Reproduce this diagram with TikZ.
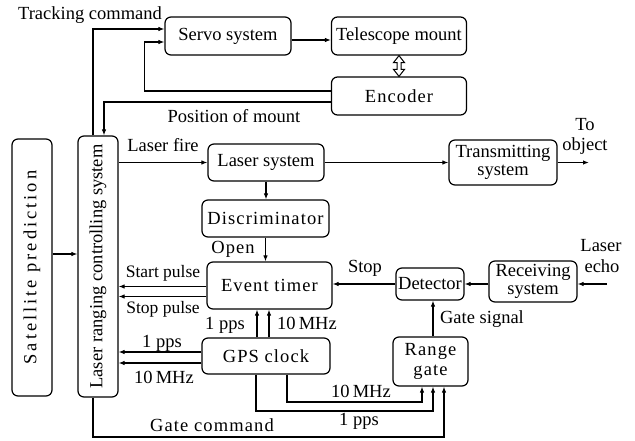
\documentclass[tikz,border=0pt]{standalone}
\usepackage{fontspec}
\setmainfont{Liberation Serif}
\newfontfamily\spc[LetterSpace=6]{Liberation Serif}
\newfontfamily\spcw[LetterSpace=16]{Liberation Serif}
\usetikzlibrary{arrows.meta}
\begin{document}
\begin{tikzpicture}[x=1pt,y=-1pt,
  font=\fontsize{18.5}{20}\selectfont,
  box/.style={draw, rounded corners=6pt, line width=1.2pt, inner sep=0pt, align=center},
  arr/.style={-{Latex[length=6pt,width=4.5pt]}, line width=1.1pt},
  lbl/.style={inner sep=0pt, anchor=base},
  two/.style={font=\fontsize{18.5}{17.5}\selectfont}]
\useasboundingbox (0,0) rectangle (635,440);

% boxes
\node[box, minimum width=126pt, minimum height=38pt] (servo) at (228,36) {Servo system};
\node[box, minimum width=135pt, minimum height=38pt] (mount) at (399,36) {Telescope mount};
\node[box, minimum width=135pt, minimum height=38pt] (enc) at (399,96) {\spc Encoder};
\node[box, minimum width=40pt, minimum height=257pt] (sat) at (32,267.5) {};
\node[rotate=90, inner sep=0pt] (satT) at (sat) {\spcw Satellite prediction};
\node[box, minimum width=40pt, minimum height=261pt] (lrcs) at (98,266.5) {};
\node[rotate=90, inner sep=0pt] (lrcsT) at (lrcs) {Laser ranging controlling system};
\node[box, minimum width=116pt, minimum height=37pt] (laser) at (266,162.5) {Laser system};
\node[box, two, minimum width=108pt, minimum height=45pt] (trans) at (503,162.5) {Transmitting\\system};
\node[box, minimum width=127pt, minimum height=37pt] (disc) at (265.5,218.5) {\spc Discriminator};
\node[box, minimum width=125pt, minimum height=47pt] (timer) at (269.5,285.5) {\spc Event timer};
\node[box, minimum width=128pt, minimum height=36pt] (gps) at (266,356) {\spc GPS clock};
\node[box, minimum width=68pt, minimum height=32pt] (det) at (430,284) {Detector};
\node[box, two, minimum width=88pt, minimum height=41pt] (recv) at (533,281.5) {Receiving\\system};
\node[box, font=\fontsize{18.5}{20}\selectfont\spc, minimum width=75pt, minimum height=49pt] (rgate) at (430.5,361.5) {Range\\gate};

% helper coordinates
\coordinate (s1) at ([yshift=13.5pt]sat.east);
\coordinate (sp1) at ([yshift=-1pt]timer.west);
\coordinate (sp2) at ([yshift=-11pt]timer.west);
\coordinate (gx1) at (257,0);
\coordinate (gx2) at (269,0);
\coordinate (gl1) at ([yshift=4pt]gps.west);
\coordinate (gl2) at ([yshift=-7pt]gps.west);
\coordinate (gb1) at (256,0);
\coordinate (gb2) at (287,0);
\coordinate (rg1) at (422,0);
\coordinate (rg2) at (433,0);
\coordinate (rg3) at (444,0);
\coordinate (l1) at (0,411);
\coordinate (l2) at (0,402);
\coordinate (l3) at (0,437);
\coordinate (obj) at (589,162.5);
\coordinate (echo) at (607,284);

% connectors
\draw[arr] ([xshift=-5pt]lrcs.north) |- ([yshift=7pt]servo.west);
\draw[arr] ([yshift=-4pt]servo.east) -- ([yshift=-4pt]mount.west);
\draw[arr] ([yshift=5pt]enc.west) -- ++(-186,0) |- ([yshift=-6pt]servo.west);
\draw[arr] ([yshift=-6pt]enc.west) -| ([xshift=6pt]lrcs.north);
% hollow double arrow between mount and encoder
\draw[line width=1pt, line join=miter] (mount.south)
  -- ([shift={(5.5,7)}]mount.south) -- ([shift={(2,7)}]mount.south)
  -- ([shift={(2,-7)}]enc.north) -- ([shift={(5.5,-7)}]enc.north)
  -- (enc.north)
  -- ([shift={(-5.5,-7)}]enc.north) -- ([shift={(-2,-7)}]enc.north)
  -- ([shift={(-2,7)}]mount.south) -- ([shift={(-5.5,7)}]mount.south) -- cycle;
\draw[arr] (s1) -- (s1 -| lrcs.west);
\draw[arr] (lrcs.east |- laser.west) -- (laser.west);
\draw[arr] (laser.south) -- (laser.south |- disc.north);
\draw[arr] (laser.east) -- (laser.east -| trans.west);
\draw[arr] (trans.east) -- (obj);
\draw[arr] (disc.south) -- (disc.south |- timer.north);
\draw[arr] (sp1) -- (sp1 -| lrcs.east);
\draw[arr] (sp2) -- (sp2 -| lrcs.east);
\draw[arr] (gps.north -| gx1) -- (timer.south -| gx1);
\draw[arr] (gps.north -| gx2) -- (timer.south -| gx2);
\draw[arr] (gl1) -- (gl1 -| lrcs.east);
\draw[arr] (gl2) -- (gl2 -| lrcs.east);
\draw[arr] (gps.south -| gb1) |- (l1 -| rg2) -- (rgate.south -| rg2);
\draw[arr] (gps.south -| gb2) |- (l2 -| rg1) -- (rgate.south -| rg1);
\draw[arr] ([xshift=-5pt]lrcs.south) |- (l3 -| rg3) -- (rgate.south -| rg3);
\draw[arr] (rgate.north -| rg2) -- (det.south -| rg2);
\draw[arr] (det.west) -- (det.west -| timer.east);
\draw[arr] (recv.west |- det.east) -- (det.east);
\draw[arr] (echo) -- (echo -| recv.east);

% labels
\node[lbl] (tTrack) at (90,19) {Tracking command};
\node[lbl] (tPos) at (234,122) {Position of mount};
\node[lbl] (tFire) at (163,151) {Laser fire};
\node[lbl] (tTo) at (585,130) {To};
\node[lbl] (tObj) at (585,150) {object};
\node[lbl] (tOpen) at (233,253) {\spc Open};
\node[lbl, font=\fontsize{17.5}{20}\selectfont] (tStart) at (163,277) {Start pulse};
\node[lbl, font=\fontsize{17.5}{20}\selectfont] (tStopP) at (163,313) {Stop pulse};
\node[lbl] (tPps1) at (225,329) {1 pps};
\node[lbl] (tMhz1) at (307,329) {10\,MHz};
\node[lbl] (tPps2) at (162,347) {1 pps};
\node[lbl] (tMhz2) at (164,383) {10\,MHz};
\node[lbl] (tMhz3) at (361,397) {10\,MHz};
\node[lbl] (tPps3) at (359,425) {1 pps};
\node[lbl] (tGate) at (212,431) {\spc Gate command};
\node[lbl] (tGsig) at (482,323) {Gate signal};
\node[lbl] (tStop) at (365,272) {Stop};
\node[lbl] (tLaser) at (601,251) {Laser};
\node[lbl] (tEcho) at (602,272) {echo};
\end{tikzpicture}
\end{document}
